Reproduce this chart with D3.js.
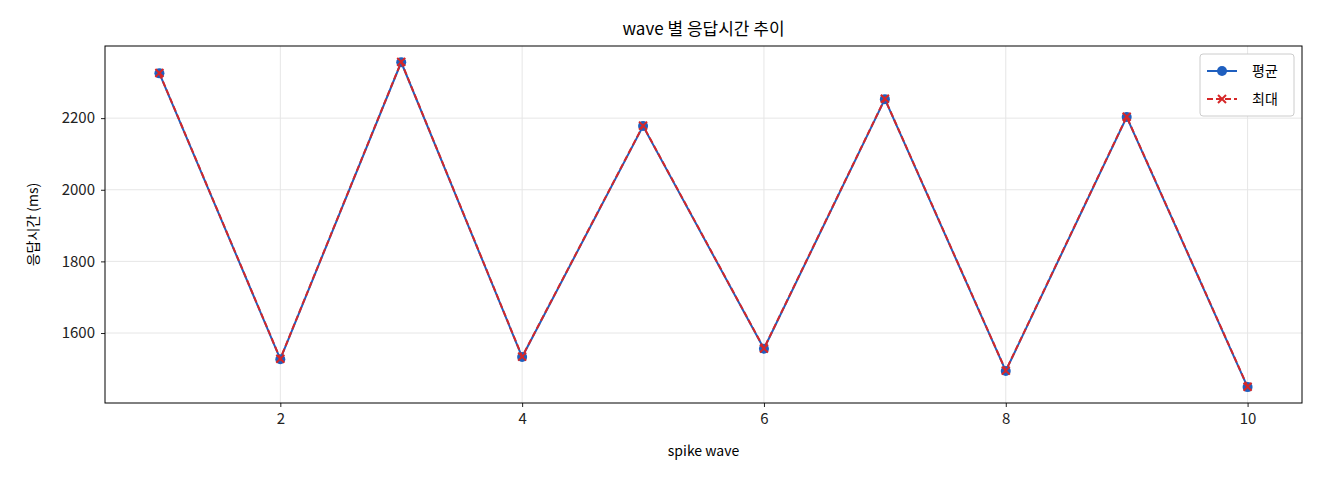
<!DOCTYPE html><html><head><meta charset="utf-8">
<script src="https://cdn.jsdelivr.net/npm/d3@7"></script>
<style>body{margin:0;background:#fff}text{font-family:"Noto Sans CJK KR","Noto Sans",sans-serif}</style></head><body>
<svg id="c" width="1320" height="480"></svg>
<script>
const waves=[1,2,3,4,5,6,7,8,9,10];
const avgValues=[2325,1527,2356,1533,2178,1556,2253,1494,2203,1449];
const maxValues=[2326,1528,2357,1534,2179,1557,2254,1495,2204,1450];
const xTicks=[2,4,6,8,10];
const yTicks=[1600,1800,2000,2200];
const L=105,R=1302,T=46,B=403;
const svg=d3.select("#c");
const x=d3.scaleLinear().domain([0.55,10.45]).range([L,R]);
const y=d3.scaleLinear().domain([1404.6,2401.4]).range([B,T]);
const g=svg.append("g");
g.selectAll(".gx").data(xTicks).join("line").attr("x1",d=>x(d)).attr("x2",d=>x(d)).attr("y1",T).attr("y2",B).attr("stroke","#e6e6e6");
g.selectAll(".gy").data(yTicks).join("line").attr("y1",d=>y(d)).attr("y2",d=>y(d)).attr("x1",L).attr("x2",R).attr("stroke","#e6e6e6");
const ax=svg.append("g").attr("transform",`translate(0,${B})`).call(d3.axisBottom(x).tickValues(xTicks).tickFormat(d3.format("d")).tickSize(4).tickPadding(6));
const ay=svg.append("g").attr("transform",`translate(${L},0)`).call(d3.axisLeft(y).tickValues(yTicks).tickFormat(d3.format("d")).tickSize(4).tickPadding(6));
[ax,ay].forEach(a=>{a.select(".domain").remove();a.selectAll("text").attr("font-size",15).attr("fill","#222");a.selectAll("line").attr("stroke","#222");});
svg.append("rect").attr("x",L).attr("y",T).attr("width",R-L).attr("height",B-T).attr("fill","none").attr("stroke","#000");
const line=d3.line().x((d,i)=>x(waves[i])).y(d=>y(d));
svg.append("path").attr("d",line(avgValues)).attr("fill","none").attr("stroke","#1f5fbf").attr("stroke-width",2);
svg.selectAll(".pt").data(avgValues).join("circle").attr("cx",(d,i)=>x(waves[i])).attr("cy",d=>y(d)).attr("r",5).attr("fill","#1f5fbf");
svg.append("path").attr("d",line(maxValues)).attr("fill","none").attr("stroke","#d62728").attr("stroke-width",2).attr("stroke-dasharray","6,3");
const cross=(gg,cx,cy)=>{gg.append("path").attr("d",`M${cx-4},${cy-4}L${cx+4},${cy+4}M${cx-4},${cy+4}L${cx+4},${cy-4}`).attr("stroke","#d62728").attr("stroke-width",2);};
maxValues.forEach((d,i)=>cross(svg,x(waves[i]),y(d)));
svg.append("text").attr("x",(L+R)/2).attr("y",35).attr("text-anchor","middle").attr("font-size",17).text("wave 별 응답시간 추이");
svg.append("text").attr("x",(L+R)/2).attr("y",456).attr("text-anchor","middle").attr("font-size",14).text("spike wave");
svg.append("text").attr("transform",`translate(38,${(T+B)/2}) rotate(-90)`).attr("text-anchor","middle").attr("font-size",14).text("응답시간 (ms)");
const lg=svg.append("g");
lg.append("rect").attr("x",1200).attr("y",54).attr("width",94).attr("height",62).attr("rx",3).attr("fill","#fff").attr("stroke","#ccc");
lg.append("line").attr("x1",1207).attr("x2",1237).attr("y1",71).attr("y2",71).attr("stroke","#1f5fbf").attr("stroke-width",2);
lg.append("circle").attr("cx",1222).attr("cy",71).attr("r",5).attr("fill","#1f5fbf");
lg.append("text").attr("x",1252).attr("y",76).attr("font-size",14).text("평균");
lg.append("line").attr("x1",1207).attr("x2",1237).attr("y1",99).attr("y2",99).attr("stroke","#d62728").attr("stroke-width",2).attr("stroke-dasharray","6,3");
cross(lg,1222,99);
lg.append("text").attr("x",1252).attr("y",104).attr("font-size",14).text("최대");
</script></body></html>
